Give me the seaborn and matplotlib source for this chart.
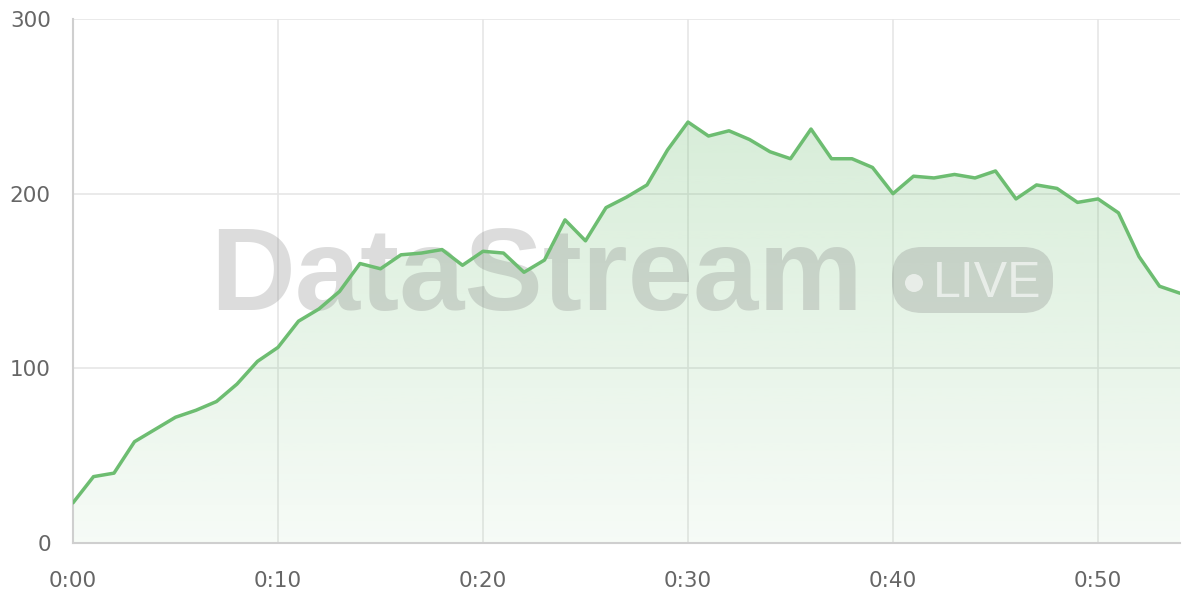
import numpy as np
import pandas as pd
import matplotlib
matplotlib.use("Agg")
import matplotlib.pyplot as plt
from matplotlib.patches import FancyBboxPatch, Circle
import seaborn as sns

# minutes since start, one reading per minute
minutes = list(range(55))
values = [23, 38, 40, 58, 65, 72, 76, 81, 91, 104, 112, 127, 134, 144, 160, 157, 165, 166, 168, 159,
          167, 166, 155, 162, 185, 173, 192, 198, 205, 225, 241, 233, 236, 231, 224, 220, 237, 220, 220, 215,
          200, 210, 209, 211, 209, 213, 197, 205, 203, 195, 197, 189, 164, 147, 143]
x_ticks = [0, 10, 20, 30, 40, 50]
x_labels = ["0:00", "0:10", "0:20", "0:30", "0:40", "0:50"]
y_ticks = [0, 100, 200, 300]

df = pd.DataFrame({"minute": minutes, "value": values})

sns.set_style("white")
plt.rcParams["font.family"] = ["DejaVu Sans"]

green = "#6dbd71"
grid_c = "#e6e6e6"
text_c = "#666666"

fig = plt.figure(figsize=(12, 6), dpi=100)
ax = fig.add_axes([73 / 1200, 57 / 600, (1180 - 73) / 1200, (543 - 19) / 600])

# gradient fill under the line
poly = ax.fill_between(df["minute"], df["value"], 0, color="none", lw=0)
ymax = max(values)
grad = np.zeros((256, 1, 4))
grad[:, 0, :3] = matplotlib.colors.to_rgb(green)
grad[:, 0, 3] = np.linspace(0.06, 0.27, 256)
img = ax.imshow(grad, aspect="auto", origin="lower", extent=[0, 54, 0, ymax],
                zorder=1, interpolation="bilinear")
img.set_clip_path(poly.get_paths()[0], transform=ax.transData)

sns.lineplot(data=df, x="minute", y="value", ax=ax, color=green, lw=2.5, zorder=3)

# watermark
ax.text(210 / 1200, (600 - 310) / 600, "DataStream", transform=fig.transFigure,
        family="Liberation Sans", fontweight="bold", fontsize=84.5,
        color=(0.5, 0.5, 0.5), alpha=0.27, ha="left", va="baseline", zorder=2.5)
badge = FancyBboxPatch((892 / 1200, (600 - 313) / 600), 161 / 1200, 66 / 600,
                       boxstyle="round,pad=0,rounding_size=0.025",
                       transform=fig.transFigure, facecolor=(0.5, 0.5, 0.5),
                       alpha=0.27, lw=0, zorder=2.5, mutation_aspect=2)
ax.add_patch(badge)
badge.set_clip_on(False)
dot = Circle((914, 600 - 283), 9, transform=None, facecolor="white",
             alpha=0.6, lw=0, zorder=2.6)
ax.add_patch(dot)
ax.text(933 / 1200, (600 - 297) / 600, "LIVE", transform=fig.transFigure,
        family="Liberation Sans", fontsize=36, color="white", alpha=0.6,
        ha="left", va="baseline", zorder=2.6)

ax.set_xlim(0, 54)
ax.set_ylim(0, 300)
ax.set_xticks(x_ticks)
ax.set_xticklabels(x_labels)
ax.set_yticks(y_ticks)
ax.set_xlabel("")
ax.set_ylabel("")
ax.grid(True, color=grid_c, lw=1.2, zorder=0)
ax.set_axisbelow(True)
for s in ["top", "right"]:
    ax.spines[s].set_visible(False)
for s in ["left", "bottom"]:
    ax.spines[s].set_color("#cfcfcf")
    ax.spines[s].set_linewidth(1.5)
ax.tick_params(axis="both", length=11, width=1.2, color=grid_c, labelcolor=text_c,
               labelsize=15.5)
ax.tick_params(axis="x", pad=9)
ax.tick_params(axis="y", pad=5)

fig.savefig("out.png", dpi=100)
